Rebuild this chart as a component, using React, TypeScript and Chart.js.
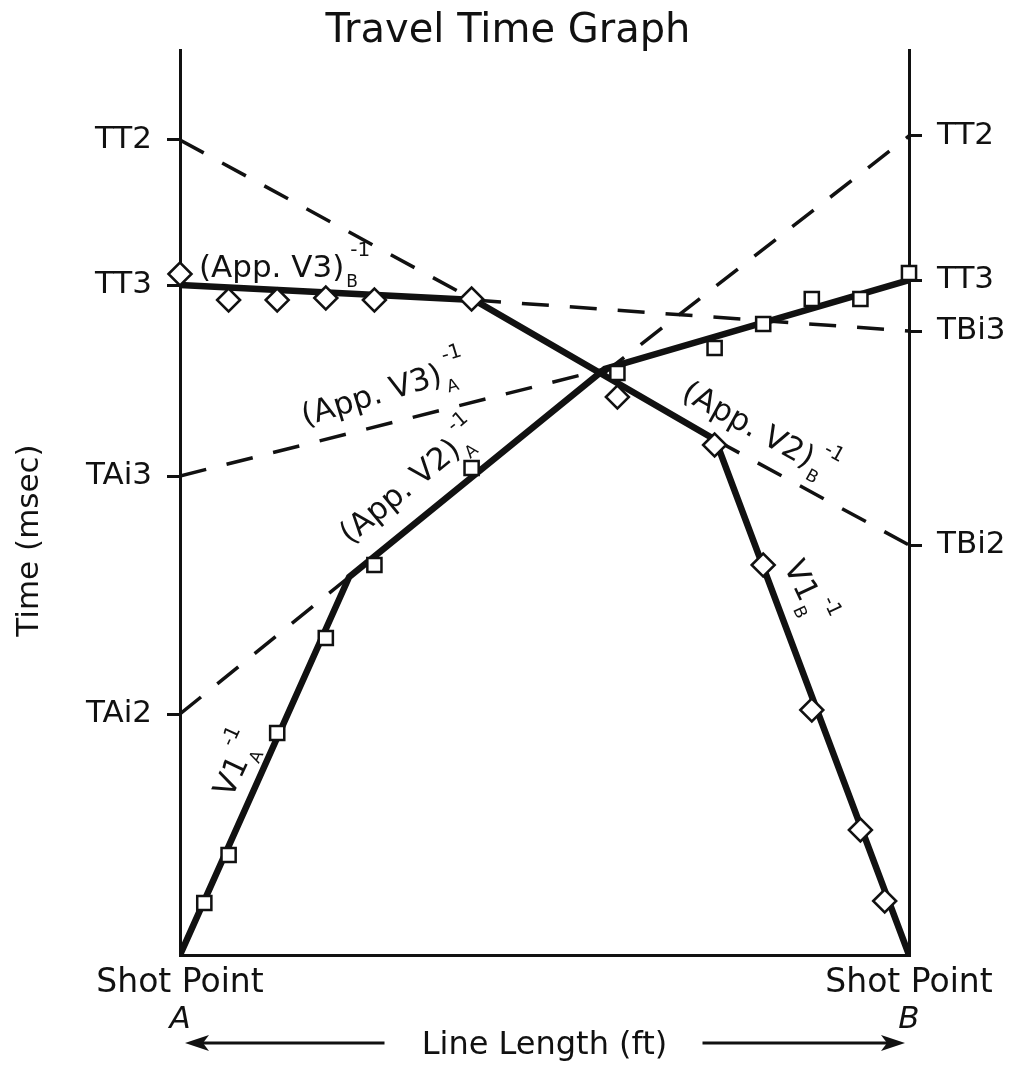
import { useEffect, useRef } from 'react';
import { Chart, registerables } from 'chart.js';

Chart.register(...registerables);

const FONT = "'DejaVu Sans', 'Liberation Sans', sans-serif";
const INK = '#111111';

// Spread geometry
const LINE_LENGTH_FT = 150;
const TIME_MAX_MS = 90.5;

// First-arrival picks, shot at A (squares)
const SHOT_A_OFFSETS = [5, 10, 20, 30, 40, 60, 90, 110, 120, 130, 140, 150];
const SHOT_A_TIMES = [5.2, 10.0, 22.2, 31.7, 39.0, 48.7, 58.2, 60.7, 63.1, 65.6, 65.6, 68.2];

// First-arrival picks, shot at B (diamonds)
const SHOT_B_OFFSETS = [0, 10, 20, 30, 40, 60, 90, 110, 120, 130, 140, 145];
const SHOT_B_TIMES = [68.1, 65.5, 65.5, 65.7, 65.5, 65.6, 55.8, 51.0, 39.0, 24.5, 12.5, 5.4];

// Fitted segments (V1, App. V2, App. V3) and their break points
const FIT_A_X = [0, 34.8, 87.4, 150];
const FIT_A_T = [0, 37.8, 58.6, 67.5];
const FIT_B_X = [0, 60.5, 110.2, 150];
const FIT_B_T = [67.0, 65.5, 51.5, 0];

// Intercept ticks at each shot point
const LEFT_TICK_LABELS = ['TT2', 'TT3', 'TAi3', 'TAi2'];
const LEFT_TICK_VALUES = [81.5, 67.0, 47.9, 24.1];
const RIGHT_TICK_LABELS = ['TT2', 'TT3', 'TBi3', 'TBi2'];
const RIGHT_TICK_VALUES = [81.9, 67.5, 62.4, 41.0];

// Dashed extrapolations of the fitted segments to the intercept ticks
const EXT_V2B_TT2_X = [0, 60.5];
const EXT_V2B_TT2_T = [81.5, 65.5];
const EXT_V3B_TBI3_X = [60.5, 150];
const EXT_V3B_TBI3_T = [65.5, 62.4];
const EXT_V3A_TAI3_X = [0, 87.4];
const EXT_V3A_TAI3_T = [47.9, 58.6];
const EXT_V2A_TAI2_X = [0, 34.8];
const EXT_V2A_TAI2_T = [24.1, 37.8];
const EXT_V2A_TT2_X = [87.0, 150];
const EXT_V2A_TT2_T = [58.1, 81.9];
const EXT_V2B_TBI2_X = [110.2, 150];
const EXT_V2B_TBI2_T = [51.5, 41.0];

// Segment names, written along each segment as (name)_sub ^-1
const SEGMENT_LABEL_TEXT = ['(App. V3)', '(App. V3)', '(App. V2)', '(App. V2)', 'V1', 'V1'];
const SEGMENT_LABEL_SUB = ['B', 'A', 'A', 'B', 'A', 'B'];
const SEGMENT_LABEL_X = [3.9, 25.7, 35.0, 102.9, 10.6, 124.2];
const SEGMENT_LABEL_T = [67.8, 52.9, 41.0, 55.7, 15.6, 38.9];
const SEGMENT_LABEL_ANGLE = [0, -17, -39.5, 29, -65, 65];

const zip = (xs: number[], ys: number[]) => xs.map((x, i) => ({ x, y: ys[i] }));

const dashed = (xs: number[], ts: number[]) => ({
  data: zip(xs, ts),
  showLine: true,
  borderColor: INK,
  borderWidth: 3.5,
  borderDash: [27, 21],
  borderCapStyle: 'butt' as const,
  pointRadius: 0,
  order: 3,
});

const annotations = {
  id: 'travelTimeAnnotations',
  afterDraw(chart: any) {
    const { ctx, chartArea, scales } = chart;
    const xs = scales.x;
    const ys = scales.y;
    ctx.save();
    ctx.fillStyle = INK;
    ctx.strokeStyle = INK;

    // Segment labels with subscript and -1 exponent
    SEGMENT_LABEL_TEXT.forEach((text, i) => {
      const px = xs.getPixelForValue(SEGMENT_LABEL_X[i]);
      const py = ys.getPixelForValue(SEGMENT_LABEL_T[i]);
      ctx.save();
      ctx.translate(px, py);
      ctx.rotate((SEGMENT_LABEL_ANGLE[i] * Math.PI) / 180);
      ctx.textAlign = 'left';
      ctx.textBaseline = 'alphabetic';
      ctx.font = `31px ${FONT}`;
      ctx.fillText(text, 0, 0);
      const w = ctx.measureText(text).width;
      ctx.font = `17px ${FONT}`;
      ctx.fillText(SEGMENT_LABEL_SUB[i], w + 2, 10);
      ctx.font = `20px ${FONT}`;
      ctx.fillText('-1', w + 6, -21);
      ctx.restore();
    });

    // Shot point letters under the axis ends
    ctx.font = `italic 31px ${FONT}`;
    ctx.textAlign = 'center';
    ctx.textBaseline = 'alphabetic';
    ctx.fillText('A', xs.getPixelForValue(0), chartArea.bottom + 73);
    ctx.fillText('B', xs.getPixelForValue(LINE_LENGTH_FT), chartArea.bottom + 73);

    // Vertical axis title
    ctx.save();
    ctx.translate(38, (chartArea.top + chartArea.bottom) / 2 + 38);
    ctx.rotate(-Math.PI / 2);
    ctx.font = `31px ${FONT}`;
    ctx.textAlign = 'center';
    ctx.fillText('Time (msec)', 0, 0);
    ctx.restore();

    // Arrows on either side of the horizontal axis title
    const ay = chartArea.bottom + 88;
    const cx = (chartArea.left + chartArea.right) / 2;
    const leftTip = chartArea.left + 5;
    const rightTip = chartArea.right - 4;
    ctx.lineWidth = 3;
    ctx.beginPath();
    ctx.moveTo(leftTip + 12, ay);
    ctx.lineTo(cx - 160, ay);
    ctx.moveTo(cx + 158, ay);
    ctx.lineTo(rightTip - 12, ay);
    ctx.stroke();
    ctx.beginPath();
    ctx.moveTo(leftTip, ay);
    ctx.lineTo(leftTip + 24, ay - 8);
    ctx.lineTo(leftTip + 18, ay);
    ctx.lineTo(leftTip + 24, ay + 8);
    ctx.closePath();
    ctx.moveTo(rightTip, ay);
    ctx.lineTo(rightTip - 24, ay - 8);
    ctx.lineTo(rightTip - 18, ay);
    ctx.lineTo(rightTip - 24, ay + 8);
    ctx.closePath();
    ctx.fill();

    ctx.restore();
  },
};

const timeAxis = (position: 'left' | 'right', values: number[], labels: string[], width: number) => ({
  type: 'linear' as const,
  position,
  min: 0,
  max: TIME_MAX_MS,
  afterBuildTicks: (s: any) => {
    s.ticks = values.map((v) => ({ value: v }));
  },
  afterFit: (s: any) => {
    s.width = width;
  },
  ticks: {
    autoSkip: false,
    padding: 15,
    color: INK,
    font: { family: FONT, size: 31 },
    callback: (_v: any, i: number) => labels[i],
  },
  grid: {
    drawOnChartArea: false,
    drawTicks: true,
    tickLength: 13,
    tickWidth: 3,
    lineWidth: 3,
    color: INK,
    tickColor: INK,
  },
  border: { display: true, color: INK, width: 3 },
});

export default function App() {
  const canvasRef = useRef<HTMLCanvasElement | null>(null);

  useEffect(() => {
    if (!canvasRef.current) return;
    const chart = new Chart(canvasRef.current, {
      type: 'scatter',
      data: {
        datasets: [
          {
            label: 'Shot A',
            data: zip(SHOT_A_OFFSETS, SHOT_A_TIMES),
            showLine: false,
            pointStyle: 'rect',
            pointRadius: 10,
            pointBackgroundColor: '#ffffff',
            pointBorderColor: INK,
            pointBorderWidth: 2.5,
            clip: false,
            order: 0,
          },
          {
            label: 'Shot B',
            data: zip(SHOT_B_OFFSETS, SHOT_B_TIMES),
            showLine: false,
            pointStyle: 'rectRot',
            pointRadius: 11.5,
            pointBackgroundColor: '#ffffff',
            pointBorderColor: INK,
            pointBorderWidth: 2.5,
            clip: false,
            order: 0,
          },
          {
            label: 'Fit A',
            data: zip(FIT_A_X, FIT_A_T),
            showLine: true,
            borderColor: INK,
            borderWidth: 6.5,
            pointRadius: 0,
            order: 1,
          },
          {
            label: 'Fit B',
            data: zip(FIT_B_X, FIT_B_T),
            showLine: true,
            borderColor: INK,
            borderWidth: 6.5,
            pointRadius: 0,
            order: 1,
          },
          dashed(EXT_V2B_TT2_X, EXT_V2B_TT2_T),
          dashed(EXT_V3B_TBI3_X, EXT_V3B_TBI3_T),
          dashed(EXT_V3A_TAI3_X, EXT_V3A_TAI3_T),
          dashed(EXT_V2A_TAI2_X, EXT_V2A_TAI2_T),
          dashed(EXT_V2A_TT2_X, EXT_V2A_TT2_T),
          dashed(EXT_V2B_TBI2_X, EXT_V2B_TBI2_T),
        ],
      },
      options: {
        responsive: false,
        maintainAspectRatio: false,
        animation: false,
        events: [],
        layout: { padding: 0 },
        plugins: {
          legend: { display: false },
          tooltip: { enabled: false },
          title: {
            display: true,
            text: 'Travel Time Graph',
            color: INK,
            font: { family: FONT, size: 40, weight: 'normal', lineHeight: 0.9 },
            padding: { top: 14, bottom: 0 },
          },
        },
        scales: {
          x: {
            type: 'linear',
            position: 'bottom',
            min: 0,
            max: LINE_LENGTH_FT,
            afterBuildTicks: (s: any) => {
              s.ticks = [{ value: 0 }, { value: LINE_LENGTH_FT }];
            },
            afterFit: (s: any) => {
              s.height = 127;
            },
            ticks: {
              autoSkip: false,
              maxRotation: 0,
              padding: 9,
              color: INK,
              font: { family: FONT, size: 33 },
              callback: () => 'Shot Point',
            },
            grid: { display: false, drawTicks: false },
            border: { display: true, color: INK, width: 3 },
            title: {
              display: true,
              text: 'Line Length (ft)',
              color: INK,
              font: { family: FONT, size: 32, lineHeight: 1.2 },
              padding: { top: 0, bottom: 17 },
            },
          },
          y: timeAxis('left', LEFT_TICK_VALUES, LEFT_TICK_LABELS, 180),
          y2: timeAxis('right', RIGHT_TICK_VALUES, RIGHT_TICK_LABELS, 107),
        },
      } as any,
      plugins: [annotations],
    });
    return () => chart.destroy();
  }, []);

  return (
    <div style={{ position: 'fixed', left: 0, top: 0, width: 1016, height: 1082, background: '#ffffff' }}>
      <canvas ref={canvasRef} width={1016} height={1082} style={{ display: 'block' }} />
    </div>
  );
}
